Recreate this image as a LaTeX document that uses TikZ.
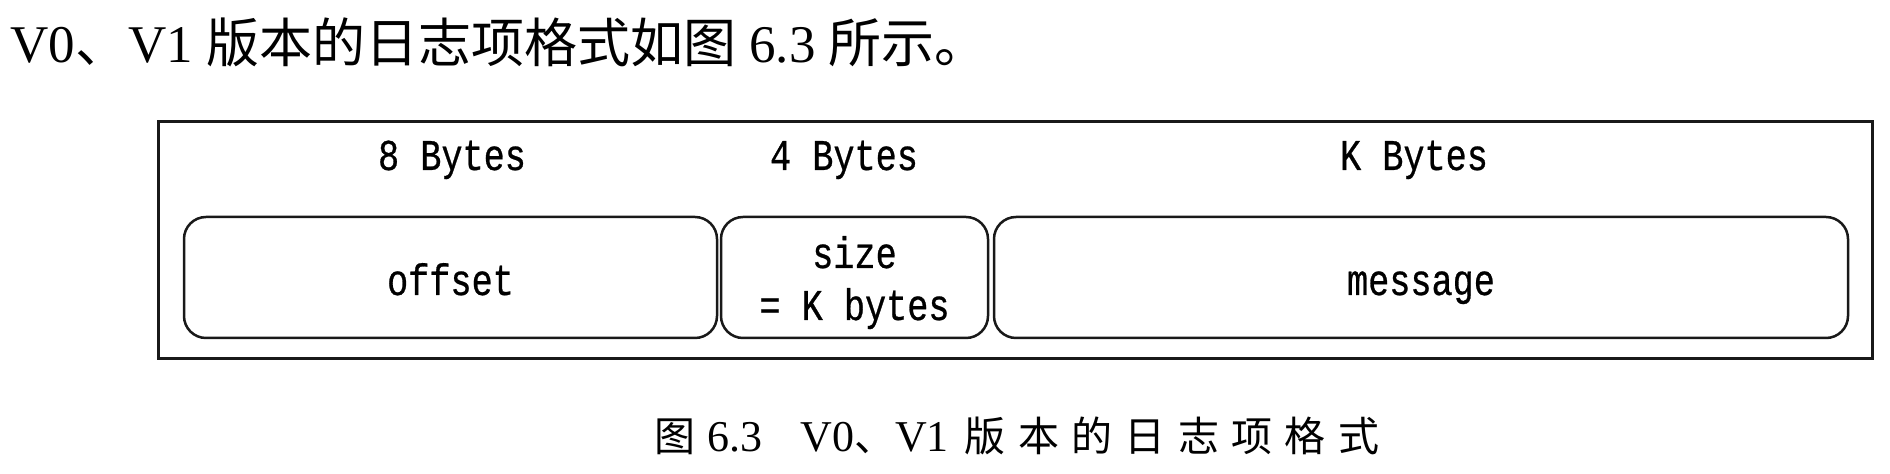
\documentclass[tikz,border=0pt]{standalone}
\usepackage{fontspec}
\setmainfont{Liberation Serif}
\newfontfamily\cjk{Noto Sans CJK SC}
\newfontfamily\cjkcap[LetterSpace=30]{Noto Sans CJK SC}
\newfontfamily\cmono[FakeStretch=0.8,FakeBold=0.6]{Liberation Mono}
\begin{document}
\begin{tikzpicture}[x=0.5pt,y=-0.5pt,
  field/.style={draw=black!90,line width=1.25pt,rounded corners=11pt,inner sep=0pt},
  lbl/.style={font=\cmono\fontsize{22}{26}\selectfont,anchor=base,inner sep=0pt},
  frame/.style={draw=black!90,line width=1.5pt,inner sep=0pt}]
\useasboundingbox (0,0) rectangle (1890,474);
% intro line
\node[anchor=base west,inner sep=0pt,font=\fontsize{26.5}{30}\selectfont] (intro) at (10,63)
  {V0{\cjk 、}V1 {\cjk 版本的日志项格式如图} 6.3 {\cjk 所示。}};
% outer frame
\node[frame,minimum width=1714pt/2,minimum height=237pt/2] (outer) at (1015,240.5) {};
% headers
\node[lbl] (h8) at (452,170) {8 Bytes};
\node[lbl] (h4) at (844,170) {4 Bytes};
\node[lbl] (hk) at (1414,170) {K Bytes};
% fields
\node[field,minimum width=533pt/2,minimum height=121pt/2] (offset) at (450.5,277.5) {};
\node[field,minimum width=267pt/2,minimum height=121pt/2] (size) at (854.5,277.5) {};
\node[field,minimum width=854pt/2,minimum height=121pt/2] (message) at (1421,277.5) {};
\node[lbl] (toffset) at (offset.center |- 0,295) {offset};
\node[lbl] (tsize1) at (size.center |- 0,268) {size};
\node[lbl] (tsize2) at (size.center |- 0,320) {= K bytes};
\node[lbl] (tmessage) at (message.center |- 0,295) {message};
% caption
\node[anchor=base west,inner sep=0pt,font=\fontsize{22}{26}\selectfont] (cap) at (654,452)
  {{\cjkcap\fontsize{20.5}{24}\selectfont 图}\hspace{6pt}6.3\hspace{19pt}V0{\cjkcap\fontsize{20.5}{24}\selectfont 、}V1\hspace{8pt}{\cjkcap\fontsize{20.5}{24}\selectfont 版本的日志项格式}};
\end{tikzpicture}
\end{document}
